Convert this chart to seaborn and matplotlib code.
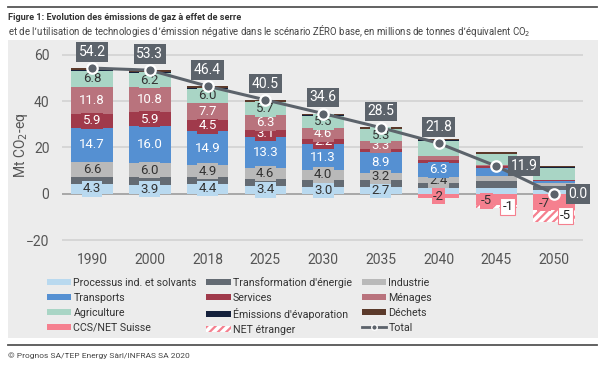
import numpy as np
import pandas as pd
import matplotlib
matplotlib.use("Agg")
import matplotlib.pyplot as plt
import seaborn as sns
from matplotlib.patches import Patch, Rectangle
from matplotlib.lines import Line2D

years = ["1990", "2000", "2018", "2025", "2030", "2035", "2040", "2045", "2050"]
processus = [4.3, 3.9, 4.4, 3.4, 3.0, 2.7, 2.3, 2.6, 1.5]
transformation = [2.9, 3.3, 2.9, 3.1, 3.1, 3.2, 2.4, 2.8, 1.8]
industrie = [6.6, 6.0, 4.9, 4.6, 4.0, 3.2, 2.4, 2.4, 1.5]
transports = [14.7, 16.0, 14.9, 13.3, 11.3, 8.9, 6.3, 3.5, 0.8]
services = [5.9, 5.9, 4.5, 3.1, 2.2, 1.3, 1.0, 0.5, 0.2]
menages = [11.8, 10.8, 7.7, 6.3, 4.6, 3.3, 2.0, 0.8, 0.3]
agriculture = [6.8, 6.2, 6.0, 5.7, 5.5, 5.3, 6.5, 4.5, 5.2]
evaporation = [0.2, 0.2, 0.1, 0.1, 0.1, 0.1, 0.1, 0.1, 0.1]
dechets = [1.0, 1.0, 1.0, 0.9, 0.8, 0.8, 0.8, 0.7, 0.6]
ccs_suisse = [0, 0, 0, 0, 0, -0.3, -2, -5, -7]
net_etranger = [0, 0, 0, 0, 0, 0, 0, -1, -5]
total = [54.2, 53.3, 46.4, 40.5, 34.6, 28.5, 21.8, 11.9, 0.0]

layer_names = ["Processus ind. et solvants", "Transformation d'énergie", "Industrie",
               "Transports", "Services", "Ménages", "Agriculture",
               "Émissions d'évaporation", "Déchets"]
layer_vals = [processus, transformation, industrie, transports, services, menages,
              agriculture, evaporation, dechets]
layer_cols = ["#b9d9ef", "#646b73", "#b9b9b9", "#5590d2", "#a03a4b", "#b9737d",
              "#a9d5c5", "#15213c", "#5b3a2b"]
label_until = [6, 0, 7, 7, 5, 6, 6, 0, 0]
label_txtcol = ["#333333", None, "#333333", "white", "white", "white", "#333333", None, None]
ccs_col = "#f5808f"
grey_dark = "#5c636b"

plt.rcParams['font.family'] = ['Roboto', 'DejaVu Sans']
plt.rcParams['hatch.linewidth'] = 1.6

fig = plt.figure(figsize=(6.05, 3.68), dpi=100)
fig.patch.set_facecolor("white")
W, H = 605, 368
fig.patches.append(Rectangle((8 / W, 1 - 338 / H), 590 / W, 298 / H, transform=fig.transFigure,
                             facecolor="#ececec", edgecolor="none", zorder=-10))
fig.add_artist(Line2D([8 / W, 597 / W], [1 - 7 / H, 1 - 7 / H], color="#555555", lw=1.3))
fig.add_artist(Line2D([8 / W, 597 / W], [1 - 345 / H, 1 - 345 / H], color="#555555", lw=1.3))
fig.text(8 / W, 1 - 18 / H, "Figure 1: Evolution des émissions de gaz à effet de serre",
         fontsize=6.6, fontweight="bold", color="#333333", va="center", ha="left")
fig.text(8 / W, 1 - 31 / H,
         "et de l’utilisation de technologies d’émission négative dans le scénario ZÉRO base, "
         "en millions de tonnes d’équivalent CO$_2$",
         fontsize=6.95, color="#444444", va="center", ha="left")
fig.text(8 / W, 1 - 356 / H, "© Prognos SA/TEP Energy Sàrl/INFRAS SA 2020",
         fontsize=6.0, color="#444444", va="center", ha="left")

ax = fig.add_axes([62 / W, 1 - 241.5 / H, (583 - 62) / W, (241.5 - 50) / H], zorder=1)
ax.set_facecolor("none")

arr = np.array(layer_vals)
cum = np.cumsum(arr, axis=0)
bw = 0.72

for i in range(len(layer_names) - 1, -1, -1):
    sns.barplot(x=years, y=list(cum[i]), order=years, color=layer_cols[i], saturation=1,
                width=bw, errorbar=None, linewidth=0, ax=ax, zorder=2 + (9 - i) * 0.01)

neg_total = list(np.array(ccs_suisse) + np.array(net_etranger))
sns.barplot(x=years, y=neg_total, order=years, color="white", edgecolor=ccs_col,
            hatch="////", saturation=1, width=bw, errorbar=None, linewidth=0, ax=ax, zorder=2.2)
sns.barplot(x=years, y=ccs_suisse, order=years, color=ccs_col, saturation=1,
            width=bw, errorbar=None, linewidth=0, ax=ax, zorder=2.3)

for i in range(len(layer_names)):
    for j in range(label_until[i]):
        v = arr[i, j]
        if i == 4 and j == 5:
            continue
        mid = cum[i, j] - v / 2
        ax.text(j, mid, f"{v:.1f}", ha="center", va="center", fontsize=9.5,
                color=label_txtcol[i], zorder=5,
                bbox=dict(boxstyle="square,pad=0.1", fc=layer_cols[i], ec="none"))

for j, v in enumerate(ccs_suisse):
    if v <= -1:
        dx = 0 if net_etranger[j] == 0 else -0.17
        ax.text(j + dx, v / 2 - (0.5 if net_etranger[j] else 0), f"{v:.0f}", ha="center",
                va="center", fontsize=9.5, color="#333333", zorder=5,
                bbox=dict(boxstyle="square,pad=0.1", fc=ccs_col, ec="none"))
for j, v in enumerate(net_etranger):
    if v < 0:
        ax.text(j + 0.2, ccs_suisse[j] + v / 2, f"{v:.0f}", ha="center", va="center",
                fontsize=9.5, color="#222222", zorder=6,
                bbox=dict(boxstyle="square,pad=0.15", fc="white", ec=ccs_col, lw=0.8))

sns.lineplot(x=list(range(len(years))), y=total, color=grey_dark, lw=2.2, marker="o",
             markersize=7.5, markerfacecolor=grey_dark, markeredgecolor="white",
             markeredgewidth=1.6, ax=ax, zorder=7, legend=False)
for j, t in enumerate(total):
    if j < 7:
        ax.text(j, t + 7, f"{t:.1f}", ha="center", va="center", fontsize=10, color="white",
                zorder=8, bbox=dict(boxstyle="square,pad=0.2", fc=grey_dark, ec="none"))
    else:
        ax.text(j + 0.25, t, f"{t:.1f}", ha="left", va="center", fontsize=10, color="white",
                zorder=8, bbox=dict(boxstyle="square,pad=0.2", fc=grey_dark, ec="none"))

ax.set_xlim(-0.52, 8.5)
ax.set_ylim(-20.6, 62)
ax.set_yticks([-20, 0, 20, 40, 60])
ax.yaxis.grid(True, color="#d2d2d2", lw=1.2, zorder=0)
ax.set_axisbelow(True)
ax.axhline(0, color="#a5a5a5", lw=1.3, zorder=1.5)
for s in ax.spines.values():
    s.set_visible(False)
ax.tick_params(axis="both", length=0, labelsize=10, labelcolor="#555555")
ax.tick_params(axis="x", pad=8)
ax.tick_params(axis="y", pad=9)
ax.set_xlabel("")
ax.set_ylabel("Mt CO$_2$-eq", fontsize=10, color="#555555")
ax.yaxis.set_label_coords(-0.062, 0.5)

handles = {n: Patch(facecolor=c, edgecolor="none") for n, c in zip(layer_names, layer_cols)}
handles["CCS/NET Suisse"] = Patch(facecolor=ccs_col, edgecolor="none")
handles["NET étranger"] = Patch(facecolor="white", edgecolor=ccs_col, hatch="////", lw=0)
handles["Total"] = Line2D([], [], color=grey_dark, lw=2, marker="o", markersize=4,
                          markerfacecolor=grey_dark, markeredgecolor="white")
order = ["Processus ind. et solvants", "Transports", "Agriculture", "CCS/NET Suisse",
         "Transformation d'énergie", "Services", "Émissions d'évaporation", "NET étranger",
         "Industrie", "Ménages", "Déchets", "Total"]
fig.legend([handles[n] for n in order], order, ncol=3, loc="upper left",
           bbox_to_anchor=(37 / W, 1 - 267 / H), frameon=False, fontsize=7.7,
           handlelength=2.3, handleheight=0.55, handletextpad=0.2, labelspacing=0.48,
           columnspacing=0.9, labelcolor="#333333")

fig.savefig("out.png", dpi=100)
